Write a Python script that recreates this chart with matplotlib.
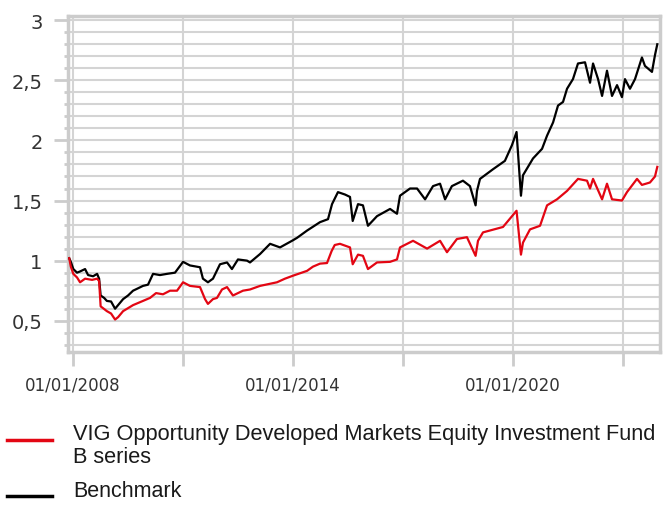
import matplotlib
matplotlib.use('Agg')
import matplotlib.pyplot as plt
import matplotlib.dates as mdates
from matplotlib.ticker import MultipleLocator, FixedLocator
from matplotlib.lines import Line2D
import pandas as pd

# Benchmark (black)
bm_dates = ['2007-11-24', '2007-12-10', '2008-01-04', '2008-02-10', '2008-03-11', '2008-04-30',
            '2008-05-30', '2008-07-19', '2008-08-28', '2008-09-17', '2008-10-02', '2008-11-06',
            '2008-12-03', '2009-01-14', '2009-02-23', '2009-03-25', '2009-05-14', '2009-07-02',
            '2009-08-21', '2009-10-10', '2009-11-28', '2010-01-17', '2010-03-08', '2010-05-16',
            '2010-07-25', '2010-10-13', '2011-01-01', '2011-03-11', '2011-06-19', '2011-07-18',
            '2011-09-06', '2011-10-26', '2012-01-04', '2012-03-14', '2012-05-02', '2012-07-01',
            '2012-09-29', '2012-10-29', '2013-02-06', '2013-05-17', '2013-08-24', '2014-01-01',
            '2014-02-10', '2014-05-20', '2014-09-26', '2014-12-15', '2015-01-24', '2015-03-24',
            '2015-06-02', '2015-07-22', '2015-08-18', '2015-10-10', '2015-11-28', '2016-01-17',
            '2016-04-16', '2016-08-24', '2016-11-01', '2016-12-01', '2017-03-11', '2017-05-20',
            '2017-08-08', '2017-10-26', '2018-01-04', '2018-02-23', '2018-05-02', '2018-08-20',
            '2018-10-29', '2018-12-24', '2019-01-07', '2019-02-06', '2019-06-15', '2019-10-12',
            '2019-12-21', '2020-02-05', '2020-03-20', '2020-04-09', '2020-07-18', '2020-10-16',
            '2020-12-05', '2021-02-03', '2021-03-24', '2021-05-13', '2021-06-22', '2021-08-20',
            '2021-10-09', '2021-12-18', '2022-02-06', '2022-03-08', '2022-04-27', '2022-06-06',
            '2022-07-25', '2022-09-13', '2022-11-02', '2022-12-21', '2023-01-20', '2023-03-11',
            '2023-04-30', '2023-07-08', '2023-08-07', '2023-10-16', '2023-11-15', '2023-12-08']
bm_values = [1.02, 0.99, 0.93, 0.90, 0.91, 0.93,
             0.88, 0.87, 0.89, 0.85, 0.71, 0.69,
             0.665, 0.66, 0.60, 0.63, 0.68, 0.71,
             0.75, 0.77, 0.79, 0.80, 0.89, 0.88,
             0.89, 0.90, 0.99, 0.96, 0.945, 0.85,
             0.82, 0.85, 0.97, 0.985, 0.93, 1.01,
             1.00, 0.985, 1.055, 1.14, 1.11, 1.17,
             1.19, 1.25, 1.32, 1.345, 1.47, 1.57,
             1.55, 1.53, 1.33, 1.47, 1.46, 1.29,
             1.37, 1.43, 1.39, 1.54, 1.60, 1.60,
             1.51, 1.62, 1.64, 1.51, 1.62, 1.665,
             1.62, 1.46, 1.58, 1.68, 1.76, 1.83,
             1.96, 2.07, 1.54, 1.71, 1.85, 1.93,
             2.04, 2.15, 2.29, 2.32, 2.43, 2.51,
             2.64, 2.65, 2.48, 2.64, 2.51, 2.37,
             2.58, 2.37, 2.46, 2.36, 2.51, 2.43,
             2.51, 2.69, 2.62, 2.57, 2.71, 2.80]

# Fund B series (red)
fund_dates = ['2007-11-24', '2007-12-10', '2008-01-04', '2008-02-10', '2008-03-11', '2008-04-30',
              '2008-07-09', '2008-08-28', '2008-09-17', '2008-10-02', '2008-12-03', '2009-01-14',
              '2009-02-23', '2009-03-25', '2009-05-14', '2009-08-21', '2009-11-28', '2010-02-06',
              '2010-04-07', '2010-06-15', '2010-08-24', '2010-11-02', '2011-01-01', '2011-03-11',
              '2011-06-19', '2011-08-08', '2011-09-06', '2011-10-26', '2011-12-05', '2012-01-24',
              '2012-03-14', '2012-05-12', '2012-08-20', '2012-10-29', '2013-02-06', '2013-07-25',
              '2013-10-12', '2014-01-01', '2014-05-20', '2014-07-18', '2014-09-26', '2014-12-05',
              '2015-01-20', '2015-02-20', '2015-04-13', '2015-07-22', '2015-08-18', '2015-10-10',
              '2015-11-28', '2016-01-17', '2016-04-16', '2016-08-24', '2016-11-01', '2016-12-01',
              '2017-04-10', '2017-08-28', '2018-01-04', '2018-03-14', '2018-06-21', '2018-09-29',
              '2018-12-24', '2019-01-17', '2019-03-08', '2019-09-23', '2020-02-05', '2020-03-20',
              '2020-04-09', '2020-06-18', '2020-09-26', '2020-12-05', '2021-03-14', '2021-06-22',
              '2021-10-09', '2022-01-07', '2022-02-06', '2022-03-08', '2022-06-06', '2022-07-25',
              '2022-09-13', '2022-12-21', '2023-02-09', '2023-05-20', '2023-07-08', '2023-09-26',
              '2023-11-15', '2023-12-08']
fund_values = [1.02, 0.95, 0.89, 0.86, 0.82, 0.85,
               0.84, 0.85, 0.83, 0.62, 0.58, 0.56,
               0.51, 0.53, 0.58, 0.63, 0.665, 0.69,
               0.73, 0.72, 0.75, 0.75, 0.82, 0.79,
               0.78, 0.68, 0.64, 0.68, 0.69, 0.76,
               0.78, 0.71, 0.75, 0.76, 0.79, 0.82,
               0.85, 0.875, 0.915, 0.95, 0.975, 0.98,
               1.08, 1.13, 1.14, 1.11, 0.97, 1.05,
               1.04, 0.93, 0.985, 0.99, 1.01, 1.11,
               1.165, 1.10, 1.165, 1.07, 1.18, 1.195,
               1.04, 1.165, 1.235, 1.28, 1.415, 1.05,
               1.15, 1.26, 1.29, 1.46, 1.51, 1.58,
               1.68, 1.665, 1.60, 1.68, 1.51, 1.64,
               1.51, 1.50, 1.57, 1.68, 1.63, 1.65,
               1.70, 1.78]

fund_label = 'VIG Opportunity Developed Markets Equity Investment Fund\nB series'
bm_label = 'Benchmark'
grid_years = [2008, 2011, 2014, 2017, 2020, 2023]
label_years = [2008, 2014, 2020]

bm = pd.Series(bm_values, index=pd.to_datetime(bm_dates))
fund = pd.Series(fund_values, index=pd.to_datetime(fund_dates))

red = '#e30613'
grey = '#cccccc'
text_col = '#333333'

fig = plt.figure(figsize=(6.65, 5.06), dpi=100)
ax = fig.add_axes([67.5 / 665, 1 - 353 / 506, (659.5 - 67.5) / 665, (353 - 17) / 506])

ax.plot(bm.index, bm.values, color='black', lw=1.6, zorder=3)
ax.plot(fund.index, fund.values, color=red, lw=1.6, zorder=4)

ax.set_xlim(pd.Timestamp('2007-11-07'), pd.Timestamp('2023-12-30'))

# axes styling
for s in ax.spines.values():
    s.set_color(grey)
    s.set_linewidth(2.5)

ax.yaxis.set_major_locator(MultipleLocator(0.5))
ax.yaxis.set_minor_locator(MultipleLocator(0.1))
ax.yaxis.set_major_formatter(lambda v, p: ('%g' % v).replace('.', ','))
ax.set_ylim(0.24, 3.035)

ticks = [mdates.date2num(pd.Timestamp(f'{y}-01-01')) for y in grid_years]
ax.xaxis.set_major_locator(FixedLocator(ticks))
ax.set_xticklabels([f'01/01/{y}' if y in label_years else '' for y in grid_years])

ax.grid(True, which='both', axis='y', color='#d4d4d4', lw=1.5)
ax.grid(True, which='major', axis='x', color='#d4d4d4', lw=1.5)
ax.set_axisbelow(True)

ax.tick_params(axis='y', which='major', length=10, width=2, color=grey, pad=8,
               labelsize=14, labelcolor=text_col)
ax.tick_params(axis='y', which='minor', length=3, width=2, color=grey)
ax.tick_params(axis='x', which='major', length=10, width=2, color=grey, pad=7,
               labelsize=12, labelcolor=text_col)

# legend below the chart
fig.add_artist(Line2D([7 / 665, 52 / 665], [1 - 441 / 506, 1 - 441 / 506],
                      color=red, lw=2.5))
fig.add_artist(Line2D([7 / 665, 52 / 665], [1 - 497 / 506, 1 - 497 / 506],
                      color='black', lw=2.5))
fig.text(73 / 665, 1 - 424 / 506, fund_label, family='Liberation Sans', fontsize=15.7,
         color='#1a1a1a', va='top', ha='left', linespacing=1.15)
fig.text(73 / 665, 1 - 481.5 / 506, bm_label, family='Liberation Sans', fontsize=15.5,
         color='#1a1a1a', va='top', ha='left')

fig.savefig('out.png', dpi=100)
